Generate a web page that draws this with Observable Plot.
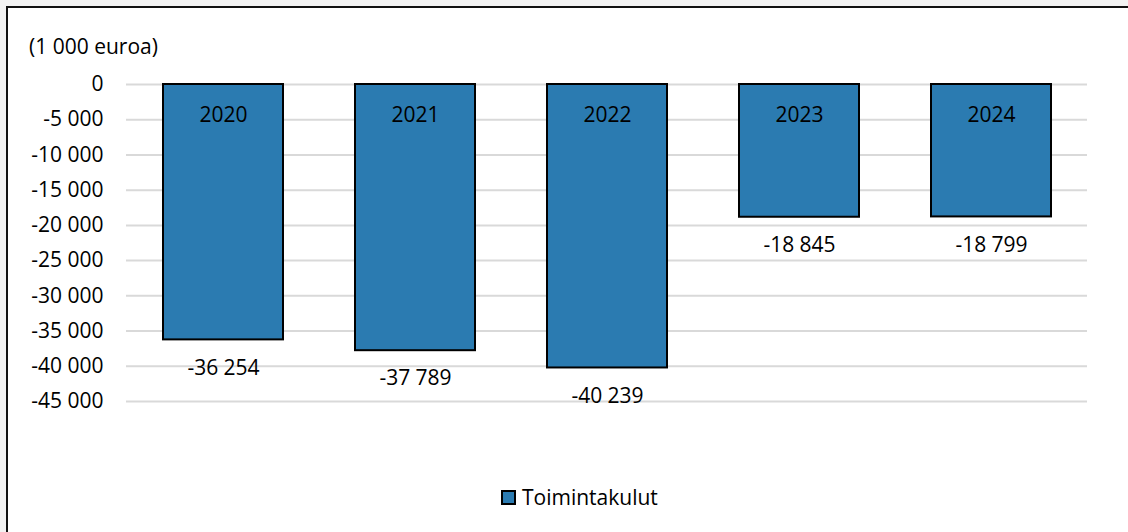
<!DOCTYPE html>
<html>
<head>
<meta charset="utf-8">
<script src="https://cdn.jsdelivr.net/npm/d3@7"></script>
<script src="https://cdn.jsdelivr.net/npm/@observablehq/plot@0.6"></script>
<style>
  html { overflow: hidden; }
  html, body { margin: 0; padding: 0; background: #f2f2f2; width: 1128px; height: 532px; font-family: "Open Sans", sans-serif; }
  body { position: relative; overflow: hidden; }
  #frame { position: absolute; left: 6px; top: 6px; width: 1140px; height: 540px; border-left: 2px solid #111; border-top: 2px solid #111; background: #fff; }
  #unit { position: absolute; left: 29px; top: 32px; font-size: 21px; color: #000; white-space: nowrap; }
  #chart { position: absolute; left: 0; top: 60px; }
  #legend { position: absolute; left: 501px; top: 483px; display: flex; align-items: center; font-size: 21px; color: #000; }
  #legend .sw { width: 11px; height: 11px; border: 2px solid #000; background: #2b7bb1; margin-right: 6px; }
</style>
</head>
<body>
<div id="frame"></div>
<div id="unit"></div>
<div id="chart"></div>
<div id="legend"><span class="sw"></span><span id="legtext"></span></div>
<script>
const years = ["2020", "2021", "2022", "2023", "2024"];
const values = [-36254, -37789, -40239, -18845, -18799];
const yTicks = [0, -5000, -10000, -15000, -20000, -25000, -30000, -35000, -40000, -45000];
const unitLabel = "(1 000 euroa)";
const seriesName = "Toimintakulut";
const barColor = "#2b7bb1";

const fmt = d => (d < 0 ? "-" : "") + d3.format(",")(Math.abs(d)).replace(/,/g, " ");
const data = years.map((y, i) => ({year: y, value: values[i]}));

document.getElementById("unit").textContent = unitLabel;
document.getElementById("legtext").textContent = seriesName;

const plot = Plot.plot({
  width: 1128,
  height: 370,
  marginLeft: 126,
  marginRight: 41,
  marginTop: 24,
  marginBottom: 29,
  style: {fontFamily: "Open Sans, sans-serif", fontSize: "21px", color: "#000", background: "transparent"},
  x: {domain: years, paddingInner: 0.376, paddingOuter: 0.188, axis: null},
  y: {domain: [-45000, 0], ticks: yTicks, tickFormat: fmt, label: null, tickSize: 0, tickPadding: 23},
  marks: [
    Plot.gridY(yTicks, {stroke: "#d9d9d9", strokeOpacity: 1, strokeWidth: 2}),
    Plot.axisY(yTicks, {tickSize: 0, tickPadding: 23, tickFormat: fmt, label: null, fontSize: 21}),
    Plot.barY(data, {x: "year", y: "value", fill: barColor, stroke: "#000", strokeWidth: 2}),
    Plot.text(data, {x: "year", y: d => 0, text: "year", dy: 31, fill: "#000", fontSize: 21}),
    Plot.text(data, {x: "year", y: "value", text: d => fmt(d.value), dy: 28, fill: "#000", fontSize: 21})
  ]
});
document.getElementById("chart").appendChild(plot);
</script>
</body>
</html>
